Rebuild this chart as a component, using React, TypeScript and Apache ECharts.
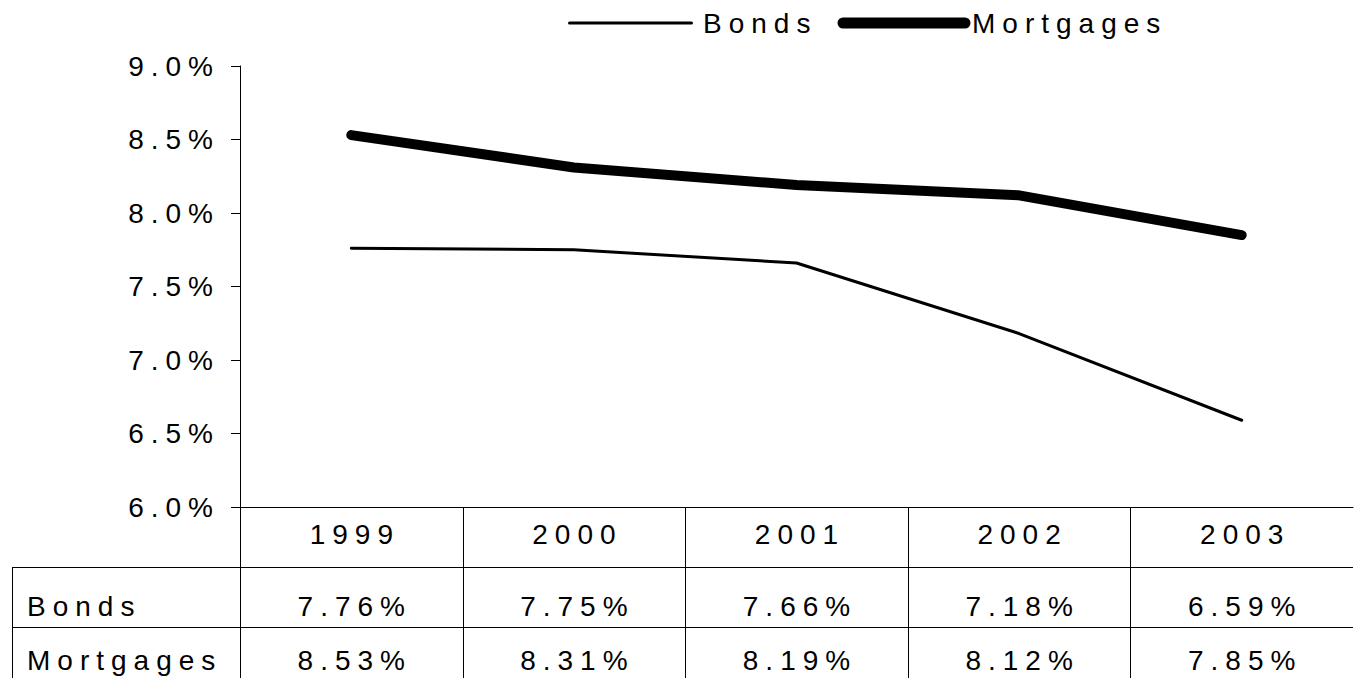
import React, { useEffect, useRef } from "react";
import * as echarts from "echarts";

// Yields by year
const years = ["1999", "2000", "2001", "2002", "2003"];
const bondsName = "Bonds";
const mortgagesName = "Mortgages";
const bonds = [7.76, 7.75, 7.66, 7.18, 6.59];
const mortgages = [8.53, 8.31, 8.19, 8.12, 7.85];

// Value axis range (percent)
const yMin = 6.0;
const yMax = 9.0;
const yStep = 0.5;

const W = 1355;
const H = 678;
const GRID_LEFT = 240;
const GRID_RIGHT = 2;
const GRID_TOP = 66;
const AXIS_Y = 507; // pixel row of the category axis
const ROW1_Y = 567; // top of the "Bonds" row
const ROW2_Y = 627; // top of the "Mortgages" row
const TABLE_LEFT = 12;
const FONT = '"Liberation Sans", Arial, Helvetica, sans-serif';
const FS = 28;
const SPACING = 7; // letter spacing applied to every label

const pct = (v: number, d: number) => v.toFixed(d) + "%";

function line(x1: number, y1: number, x2: number, y2: number, w = 1, cap = "butt") {
  return {
    type: "line",
    silent: true,
    shape: { x1, y1, x2, y2 },
    style: { stroke: "#000", lineWidth: w, lineCap: cap },
  };
}

function text(x: number, y: number, t: string, align: string) {
  return {
    type: "text",
    silent: true,
    x: align === "center" ? x + SPACING / 2 : x,
    y,
    style: {
      text: t,
      fontSize: FS,
      fontFamily: FONT,
      fill: "#000",
      align,
      verticalAlign: "middle",
    },
  };
}

function buildTable() {
  const els: any[] = [];
  const right = W - GRID_RIGHT;
  const colW = (right - GRID_LEFT) / years.length;
  els.push(line(TABLE_LEFT, ROW1_Y + 0.5, right, ROW1_Y + 0.5));
  els.push(line(TABLE_LEFT, ROW2_Y + 0.5, right, ROW2_Y + 0.5));
  els.push(line(TABLE_LEFT + 0.5, ROW1_Y, TABLE_LEFT + 0.5, H));
  for (let i = 0; i <= years.length - 1; i++) {
    const x = Math.round(GRID_LEFT + i * colW) + 0.5;
    els.push(line(x, AXIS_Y, x, H));
  }
  const rows: [string, number[], number][] = [
    [bondsName, bonds, 606],
    [mortgagesName, mortgages, 660],
  ];
  rows.forEach(([name, vals, cy]) => {
    els.push(text(TABLE_LEFT + 15, cy, name, "left"));
    vals.forEach((v, i) => {
      els.push(text(GRID_LEFT + (i + 0.5) * colW, cy, pct(v, 2), "center"));
    });
  });
  return els;
}

function buildLegend() {
  const cy = 23;
  return [
    line(569.5, cy, 691.5, cy, 3, "round"),
    text(703, cy, bondsName, "left"),
    line(843, cy, 965, cy, 11, "round"),
    text(972, cy, mortgagesName, "left"),
  ];
}

export default function App() {
  const ref = useRef<HTMLDivElement>(null);

  useEffect(() => {
    if (!ref.current) return;
    const el = ref.current;
    const chart = echarts.init(el, null, { renderer: "svg" });

    const spaceTexts = () => {
      el.querySelectorAll("text").forEach((t) => {
        t.setAttribute("letter-spacing", String(SPACING));
      });
    };

    chart.on("finished", spaceTexts);

    chart.setOption({
      animation: false,
      backgroundColor: "#fff",
      grid: {
        left: GRID_LEFT,
        right: GRID_RIGHT,
        top: GRID_TOP,
        bottom: H - AXIS_Y,
        containLabel: false,
      },
      xAxis: {
        type: "category",
        data: years,
        boundaryGap: true,
        axisLine: { show: true, lineStyle: { color: "#000", width: 1 } },
        axisTick: { show: false },
        axisLabel: {
          show: true,
          interval: 0,
          margin: 13,
          color: "#000",
          fontSize: FS,
          fontFamily: FONT,
          lineHeight: FS,
          padding: [0, 0, 0, SPACING],
        },
        splitLine: { show: false },
      },
      yAxis: {
        type: "value",
        min: yMin,
        max: yMax,
        interval: yStep,
        axisLine: { show: true, lineStyle: { color: "#000", width: 1 } },
        axisTick: { show: true, inside: false, length: 9, lineStyle: { color: "#000" } },
        axisLabel: {
          margin: 20,
          color: "#000",
          fontSize: FS,
          fontFamily: FONT,
          formatter: (v: number) => pct(v, 1),
        },
        splitLine: { show: false },
      },
      series: [
        {
          name: bondsName,
          type: "line",
          data: bonds,
          symbol: "none",
          lineStyle: { color: "#000", width: 3, cap: "round", join: "round" },
          z: 3,
        },
        {
          name: mortgagesName,
          type: "line",
          data: mortgages,
          symbol: "none",
          lineStyle: { color: "#000", width: 10, cap: "round", join: "round" },
          z: 3,
        },
      ],
      graphic: [...buildLegend(), ...buildTable()],
    });

    spaceTexts();

    return () => {
      chart.off("finished", spaceTexts);
      chart.dispose();
    };
  }, []);

  return (
    <div
      ref={ref}
      style={{ position: "absolute", left: 0, top: 0, width: W, height: H, background: "#fff" }}
    />
  );
}
